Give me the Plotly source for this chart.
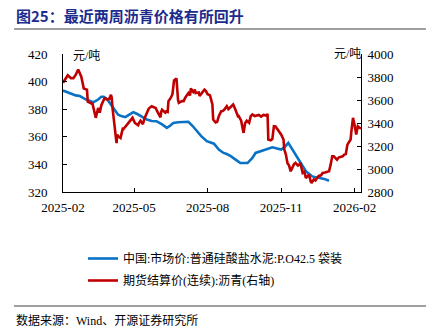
import plotly.graph_objects as go

# 水泥市场价（元/吨，左轴）
cement_dates = [
    "2025-02-01", "2025-02-09", "2025-02-17", "2025-02-22", "2025-03-02", "2025-03-11",
    "2025-03-17", "2025-03-21", "2025-03-24", "2025-03-28", "2025-04-01", "2025-04-05",
    "2025-04-11", "2025-04-15", "2025-04-20", "2025-04-25", "2025-04-30", "2025-05-05",
    "2025-05-08", "2025-05-13", "2025-05-17", "2025-05-23", "2025-05-29", "2025-06-05",
    "2025-06-11", "2025-06-15", "2025-06-19", "2025-06-25", "2025-07-02", "2025-07-08",
    "2025-07-13", "2025-07-19", "2025-07-24", "2025-07-31", "2025-08-09", "2025-08-15",
    "2025-08-21", "2025-08-25", "2025-08-30", "2025-09-05", "2025-09-11", "2025-09-20",
    "2025-09-26", "2025-09-30", "2025-10-11", "2025-10-21", "2025-11-01", "2025-11-06",
    "2025-11-10", "2025-11-16", "2025-11-24", "2025-12-02", "2025-12-10", "2025-12-19",
    "2025-12-25", "2025-12-31",
]
cement_price = [
    393.5, 391.5, 390.0, 389.5, 387.0, 385.0,
    387.0, 389.0, 389.0, 387.4, 384.0, 381.0,
    376.0, 375.0, 374.2, 376.0, 377.8, 376.5,
    375.4, 373.5, 372.5, 371.5, 371.3, 369.0,
    366.5, 368.0, 370.0, 370.5, 371.0, 370.9,
    368.0, 364.0, 360.5, 356.8, 355.0, 350.7,
    348.3, 347.5, 346.0, 343.5, 341.0, 341.0,
    344.7, 348.3, 350.7, 352.4, 350.7, 353.0,
    355.6, 350.0, 342.2, 335.0, 331.3, 330.2,
    329.5, 328.2,
]

# 沥青期货结算价（连续，元/吨，右轴）
asphalt_dates = [
    "2025-02-01", "2025-02-07", "2025-02-11", "2025-02-14", "2025-02-17", "2025-02-20",
    "2025-02-24", "2025-02-27", "2025-03-03", "2025-03-04", "2025-03-10", "2025-03-13",
    "2025-03-14", "2025-03-17", "2025-03-19", "2025-03-21", "2025-03-25", "2025-03-28",
    "2025-03-31", "2025-04-02", "2025-04-03", "2025-04-04", "2025-04-09", "2025-04-10",
    "2025-04-11", "2025-04-14", "2025-04-17", "2025-04-18", "2025-04-22", "2025-04-27",
    "2025-04-29", "2025-05-02", "2025-05-06", "2025-05-07", "2025-05-09", "2025-05-12",
    "2025-05-14", "2025-05-19", "2025-05-20", "2025-05-23", "2025-05-26", "2025-05-28",
    "2025-05-30", "2025-06-03", "2025-06-04", "2025-06-05", "2025-06-09", "2025-06-10",
    "2025-06-12", "2025-06-13", "2025-06-16", "2025-06-18", "2025-06-20", "2025-06-23",
    "2025-06-25", "2025-06-26", "2025-06-30", "2025-07-02", "2025-07-04", "2025-07-08",
    "2025-07-10", "2025-07-11", "2025-07-14", "2025-07-16", "2025-07-17", "2025-07-21",
    "2025-07-22", "2025-07-24", "2025-07-28", "2025-07-30", "2025-08-01", "2025-08-04",
    "2025-08-07", "2025-08-08", "2025-08-11", "2025-08-13", "2025-08-15", "2025-08-18",
    "2025-08-20", "2025-08-22", "2025-08-25", "2025-08-27", "2025-09-01", "2025-09-02",
    "2025-09-04", "2025-09-08", "2025-09-09", "2025-09-11", "2025-09-12", "2025-09-15",
    "2025-09-17", "2025-09-19", "2025-09-22", "2025-09-24", "2025-09-26", "2025-09-29",
    "2025-10-01", "2025-10-04", "2025-10-07", "2025-10-10", "2025-10-14", "2025-10-15",
    "2025-10-16", "2025-10-19", "2025-10-21", "2025-10-23", "2025-10-25", "2025-10-27",
    "2025-10-30", "2025-11-01", "2025-11-04", "2025-11-05", "2025-11-07", "2025-11-09",
    "2025-11-11", "2025-11-13", "2025-11-15", "2025-11-17", "2025-11-19", "2025-11-22",
    "2025-11-24", "2025-11-25", "2025-11-28", "2025-11-30", "2025-12-02", "2025-12-04",
    "2025-12-06", "2025-12-08", "2025-12-09", "2025-12-12", "2025-12-14", "2025-12-16",
    "2025-12-18", "2025-12-21", "2025-12-23", "2025-12-26", "2025-12-29", "2025-12-31",
    "2026-01-02", "2026-01-04", "2026-01-06", "2026-01-08", "2026-01-10", "2026-01-12",
    "2026-01-14", "2026-01-17", "2026-01-19", "2026-01-21", "2026-01-23", "2026-01-25",
    "2026-01-27", "2026-01-28", "2026-01-29", "2026-01-30", "2026-02-01", "2026-02-03",
    "2026-02-05", "2026-02-07", "2026-02-09",
]
asphalt_price = [
    3750, 3815, 3790, 3790, 3820, 3865,
    3800, 3700, 3690, 3585, 3565, 3460,
    3445, 3530, 3490, 3555, 3615, 3605,
    3610, 3645, 3620, 3530, 3225, 3300,
    3285, 3270, 3358, 3350, 3385, 3430,
    3445, 3400, 3380, 3400, 3420, 3390,
    3440, 3520, 3530, 3546, 3540, 3530,
    3500, 3450, 3500, 3515, 3490, 3500,
    3495, 3590, 3620, 3650, 3770, 3788,
    3600, 3576, 3590, 3590, 3620, 3660,
    3640, 3700, 3670, 3690, 3660, 3665,
    3634, 3650, 3690, 3677, 3650, 3640,
    3561, 3430, 3405, 3410, 3460, 3503,
    3505, 3517, 3546, 3520, 3550, 3561,
    3530, 3459, 3460, 3440, 3420, 3314,
    3400, 3420, 3401, 3460, 3474, 3460,
    3465, 3470, 3455, 3470, 3464, 3480,
    3256, 3250, 3260, 3372, 3370, 3350,
    3320, 3300, 3256, 3169, 3125, 3050,
    3030, 2980, 3010, 3040, 3053, 3030,
    3040, 3053, 2966, 2975, 2922, 2936,
    2950, 2892, 2878, 2910, 2900, 2922,
    2940, 2945, 2966, 2970, 2980, 2980,
    3038, 3110, 3110, 3095, 3080, 3100,
    3105, 3110, 3125, 3130, 3212, 3230,
    3256, 3330, 3420, 3445, 3380, 3300,
    3372, 3360, 3349,
]

x_ticks = ["2025-02-01", "2025-05-01", "2025-08-01", "2025-11-01", "2026-02-01"]
x_tick_text = ["2025-02", "2025-05", "2025-08", "2025-11", "2026-02"]

title_text = "图25：最近两周沥青价格有所回升"
source_text = "数据来源：Wind、开源证券研究所"
cement_name = "中国:市场价:普通硅酸盐水泥:P.O42.5 袋装"
asphalt_name = "期货结算价(连续):沥青(右轴)"
unit_text = "元/吨"

W, H = 433, 335
M_L, M_R, M_T, M_B = 63, 72, 54, 143
PLOT_H = H - M_T - M_B
PLOT_W = W - M_L - M_R


def px_x(x):
    return (x - M_L) / PLOT_W


def px_y(y):
    return (H - M_B - y) / PLOT_H


SERIF = "Liberation Serif, Times New Roman, serif"
CJK = "Liberation Serif, Noto Sans CJK SC, serif"

fig = go.Figure()
fig.add_trace(go.Scatter(
    x=cement_dates, y=cement_price, name=cement_name, mode="lines",
    line=dict(color="#0A72C4", width=2.6), legendgroup="a",
))
fig.add_trace(go.Scatter(
    x=asphalt_dates, y=asphalt_price, name=asphalt_name, mode="lines",
    line=dict(color="#C00000", width=2.6), yaxis="y2", legendgroup="b",
))

fig.update_layout(
    width=W, height=H,
    margin=dict(l=M_L, r=M_R, t=M_T, b=M_B, pad=0),
    paper_bgcolor="white", plot_bgcolor="white",
    font=dict(family=SERIF, size=13, color="#000000"),
    showlegend=True,
    legend=dict(
        x=px_x(83), y=px_y(244), xanchor="left", yanchor="top",
        font=dict(family=CJK, size=12, color="#000000"),
        traceorder="grouped", tracegroupgap=3,
        bgcolor="rgba(0,0,0,0)", itemwidth=30,
    ),
    xaxis=dict(
        type="date", range=["2025-02-01", "2026-02-09"],
        tickvals=x_ticks, ticktext=x_tick_text,
        ticks="inside", ticklen=4, tickcolor="#000000",
        showline=True, linecolor="#000000", linewidth=1,
        showgrid=False, zeroline=False,
        tickfont=dict(family=SERIF, size=13),
        ticklabelstandoff=3,
    ),
    yaxis=dict(
        range=[320, 420], dtick=20, tick0=320,
        ticks="inside", ticklen=4, tickcolor="#000000",
        showline=True, linecolor="#000000", linewidth=1,
        showgrid=False, zeroline=False,
        tickfont=dict(family=SERIF, size=13),
        ticklabelstandoff=12,
    ),
    yaxis2=dict(
        range=[2800, 4000], dtick=200, tick0=2800,
        overlaying="y", side="right",
        ticks="inside", ticklen=4, tickcolor="#000000",
        showline=True, linecolor="#000000", linewidth=1,
        showgrid=False, zeroline=False,
        tickfont=dict(family=SERIF, size=13),
        ticklabelstandoff=3,
    ),
    shapes=[
        dict(type="line", xref="paper", yref="paper",
             x0=px_x(14), x1=px_x(426), y0=px_y(29), y1=px_y(29),
             line=dict(color="#7F7F7F", width=1.5)),
        dict(type="line", xref="paper", yref="paper",
             x0=px_x(14), x1=px_x(426), y0=px_y(306), y1=px_y(306),
             line=dict(color="#7F7F7F", width=1.5)),
    ],
    annotations=[
        dict(text="<b>" + title_text + "</b>", xref="paper", yref="paper",
             x=px_x(14), y=px_y(15), xanchor="left", yanchor="middle",
             showarrow=False,
             font=dict(family="Noto Sans CJK SC", size=15, color="#1C2C8C")),
        dict(text=source_text, xref="paper", yref="paper",
             x=px_x(14), y=px_y(320), xanchor="left", yanchor="middle",
             showarrow=False, font=dict(family=CJK, size=12, color="#000000")),
        dict(text=unit_text, xref="paper", yref="paper",
             x=px_x(71), y=px_y(56), xanchor="left", yanchor="middle",
             showarrow=False, font=dict(family=CJK, size=12, color="#000000")),
        dict(text=unit_text, xref="paper", yref="paper",
             x=px_x(363), y=px_y(54), xanchor="right", yanchor="middle",
             showarrow=False, font=dict(family=CJK, size=12, color="#000000")),
    ],
)

fig.write_html("out.html")
